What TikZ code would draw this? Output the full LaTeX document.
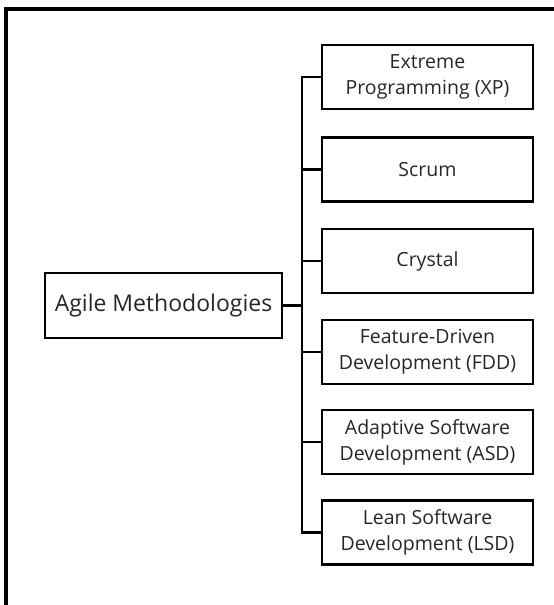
\documentclass[tikz,border=0pt]{standalone}
\usepackage{fontspec}
\setmainfont{Open Sans}
\begin{document}
\begin{tikzpicture}[x=1pt,y=-1pt,
  box/.style={draw=black,line width=2.8pt,minimum width=211pt,minimum height=64pt,align=center,inner sep=0pt,font=\fontsize{19.5}{26}\selectfont,text=black!85},
  root/.style={draw=black,line width=2.8pt,minimum width=237pt,minimum height=65pt,inner sep=0pt,font=\fontsize{23}{26}\selectfont,text=black!85},
  conn/.style={line width=2.8pt,black}]
\useasboundingbox (0,0) rectangle (554,605);
\draw[line width=4pt] (6,605) -- (6,9) -- (554,9);
\node[root] (agile) at (163.5,305.5) {Agile Methodologies};
\node[box] (xp) at (427.5,77) {Extreme\\Programming (XP)};
\node[box] (scrum) at (427.5,169.5) {Scrum};
\node[box] (crystal) at (427.5,261) {Crystal};
\node[box] (fdd) at (427.5,352) {Feature-Driven\\Development (FDD)};
\node[box] (asd) at (427.5,442) {Adaptive Software\\Development (ASD)};
\node[box] (lsd) at (427.5,532.5) {Lean Software\\Development (LSD)};
\coordinate (tr) at (302,305.5);
\draw[conn] (agile.east) -- (tr);
\draw[conn] (xp.west) -| (tr) |- (lsd.west);
\foreach \n in {scrum,crystal,fdd,asd}{\draw[conn] (\n.west) -- (302,0 |- \n.west);}
\end{tikzpicture}
\end{document}
